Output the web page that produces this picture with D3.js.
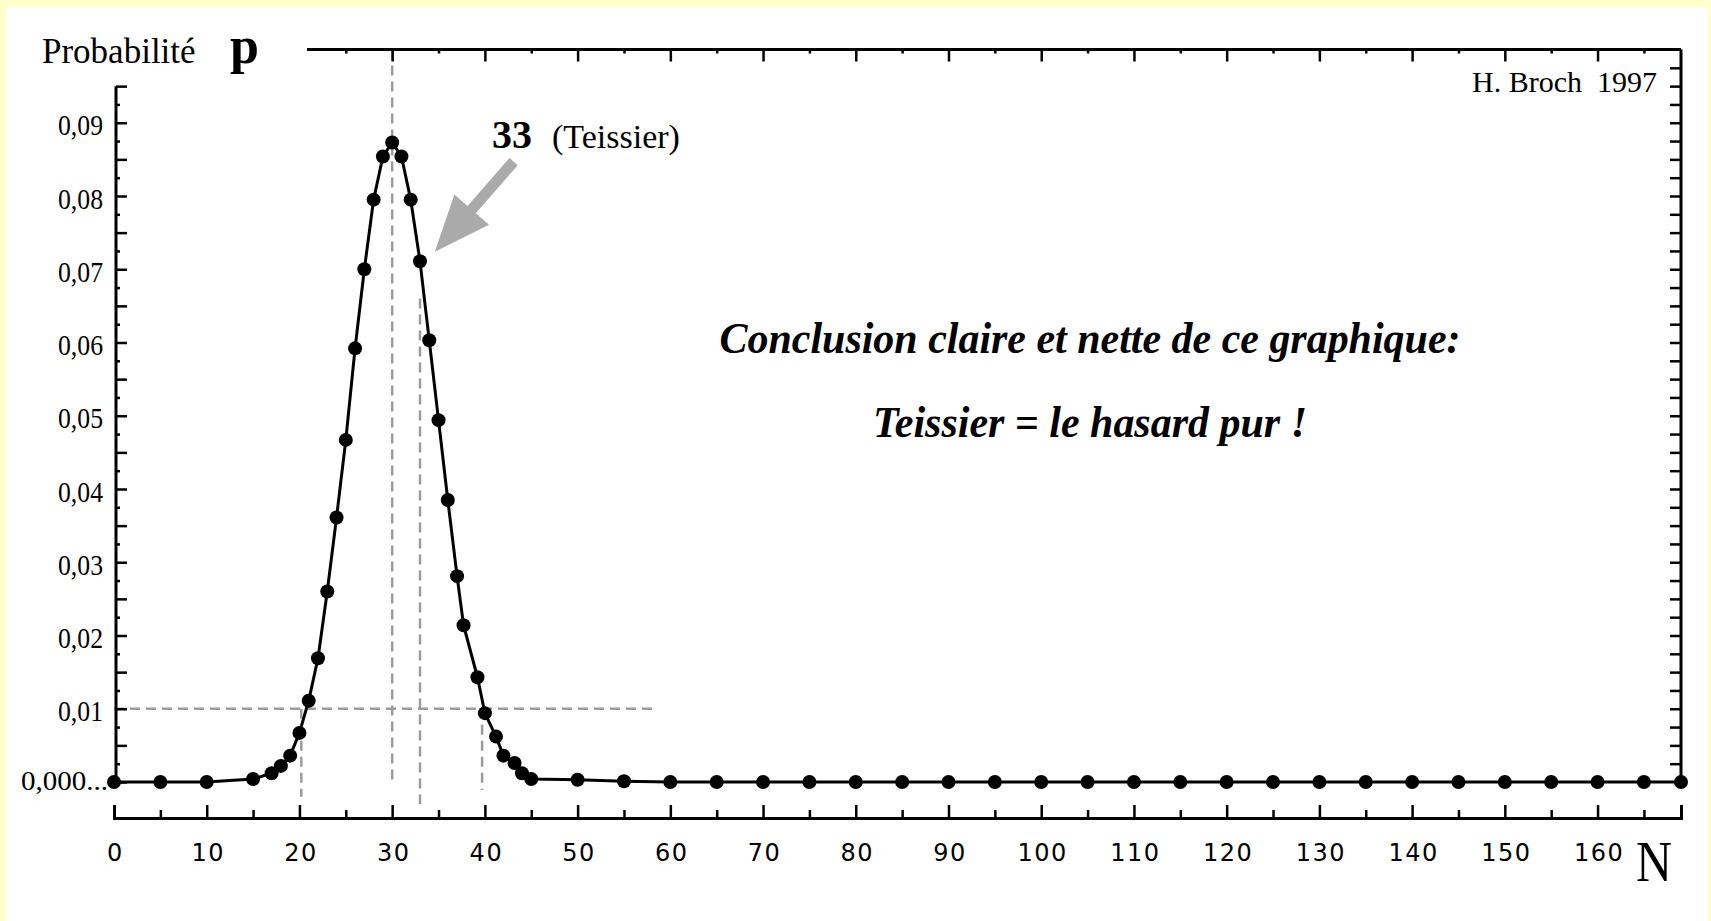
<!DOCTYPE html>
<html>
<head>
<meta charset="utf-8">
<script src="https://cdn.jsdelivr.net/npm/d3@7"></script>
<style>
  html, body { margin: 0; padding: 0; background: #ffffcc; }
  svg { display: block; }
</style>
</head>
<body>
<svg id="CHART" width="1711" height="921"></svg>
<script>
// valeurs : N et probabilité p
const N_VALUES = [0, 5, 10, 15, 17, 18, 19, 20, 21, 22, 23, 24, 25, 26, 27, 28, 29, 30, 31, 32, 33, 34, 35, 36, 37, 37.7, 39.2, 40, 41.2, 42, 43.2, 44, 45, 50, 55, 60, 65, 70, 75, 80, 85, 90, 95, 100, 105, 110, 115, 120, 125, 130, 135, 140, 145, 150, 155, 160, 165, 169];
const P_VALUES = [0, 0, 0, 0.0004, 0.0012, 0.0022, 0.0036, 0.0067, 0.0111, 0.0169, 0.026, 0.0361, 0.0467, 0.0592, 0.07, 0.0795, 0.0854, 0.0873, 0.0854, 0.0795, 0.0711, 0.0603, 0.0494, 0.0385, 0.0281, 0.0214, 0.0143, 0.0094, 0.0062, 0.0036, 0.0026, 0.0012, 0.0004, 0.0003, 0.0001, 0, 0, 0, 0, 0, 0, 0, 0, 0, 0, 0, 0, 0, 0, 0, 0, 0, 0, 0, 0, 0, 0, 0];

const X_TICKS = [0, 10, 20, 30, 40, 50, 60, 70, 80, 90, 100, 110, 120, 130, 140, 150, 160];
const Y_TICKS = [0.01, 0.02, 0.03, 0.04, 0.05, 0.06, 0.07, 0.08, 0.09];
const Y_LABELS = ["0,01", "0,02", "0,03", "0,04", "0,05", "0,06", "0,07", "0,08", "0,09"];
const Y_ZERO_LABEL = "0,000...";

// lignes pointillées (en unités N / p)
const GUIDES = [
  { x1: 0, y1: 0.01, x2: 58.3, y2: 0.01 },
  { x1: 20.2, y1: 0.01, x2: 20.2, y2: -0.002 },
  { x1: 30, y1: 0.1, x2: 30, y2: 0 },
  { x1: 33, y1: 0.066, x2: 33, y2: -0.003 },
  { x1: 39.7, y1: 0.01, x2: 39.7, y2: -0.0011 },
];
const ARROW = { from: [43.1, 0.0847], to: [34.6, 0.0724] };

const CONCLUSION = ["Conclusion claire et nette de ce graphique:", "Teissier = le hasard pur !"];

function drawChart() {
  const W = 1711, H = 921;
  const serif = "'Liberation Serif', 'Times New Roman', serif";
  const svg = d3.select("#CHART").attr("viewBox", `0 0 ${W} ${H}`);

  svg.append("rect").attr("width", W).attr("height", H).attr("fill", "#ffffcc");
  svg.append("rect").attr("x", 6).attr("y", 7).attr("width", W - 9).attr("height", H - 7).attr("fill", "white");

  const x = d3.scaleLinear().domain([0, 169]).range([114, 1681]);
  const y = d3.scaleLinear().domain([0, 0.1]).range([782, 49.5]);

  // pointillés gris
  svg.append("g")
    .attr("stroke", "#9c9c9c")
    .attr("stroke-width", 2.5)
    .attr("stroke-dasharray", "10,6")
    .selectAll("line")
    .data(GUIDES)
    .join("line")
    .attr("x1", (d) => x(d.x1))
    .attr("y1", (d) => y(d.y1))
    .attr("x2", (d) => x(d.x2))
    .attr("y2", (d) => y(d.y2));

  const styleAxis = (g, w) => {
    g.selectAll("line").attr("stroke", "#000").attr("stroke-width", w);
    g.selectAll("path").attr("stroke", "#000").attr("stroke-width", 3);
  };

  // axe N (en bas), graduations vers le haut
  const gx = svg.append("g").attr("transform", "translate(0,818)")
    .call(d3.axisBottom(x).tickValues(X_TICKS).tickSize(-13).tickSizeOuter(-13).tickPadding(26));
  styleAxis(gx, 2.5);
  gx.selectAll("text")
    .attr("fill", "#000")
    .style("font-family", "'DejaVu Sans', sans-serif")
    .style("font-size", "24px")
    .style("letter-spacing", "1.5px")
    .attr("dx", 1);
  const minorX = d3.range(5, 166, 10);
  const gx2 = svg.append("g").attr("transform", "translate(0,818)")
    .call(d3.axisBottom(x).tickValues(minorX).tickSize(-8).tickFormat(""));
  gx2.select(".domain").remove();
  styleAxis(gx2, 2.5);

  // axe haut
  svg.append("line").attr("x1", 307).attr("x2", x(169)).attr("y1", y(0.1)).attr("y2", y(0.1))
    .attr("stroke", "#000").attr("stroke-width", 3);
  const topMajor = d3.range(30, 161, 10);
  const topMinor = d3.range(25, 166, 10);
  [[topMajor, 12], [topMinor, 4]].forEach(([vals, len]) => {
    const g = svg.append("g").attr("transform", `translate(0,${y(0.1)})`)
      .call(d3.axisBottom(x).tickValues(vals).tickSize(len).tickFormat(""));
    g.select(".domain").remove();
    styleAxis(g, 2.5);
  });

  // axe p (gauche)
  svg.append("line").attr("x1", 116).attr("x2", 116).attr("y1", y(-0.0007)).attr("y2", y(0.095))
    .attr("stroke", "#000").attr("stroke-width", 3);
  const yMajor = d3.range(0, 20).map((i) => i * 0.005);
  const yMinor = d3.range(0, 19).map((i) => i * 0.005 + 0.0025);
  const gy = svg.append("g").attr("transform", "translate(116,0)")
    .call(d3.axisLeft(y).tickValues(yMajor).tickSize(-11).tickPadding(13)
      .tickFormat((d) => {
        const i = Y_TICKS.findIndex((t) => Math.abs(t - d) < 1e-9);
        return i < 0 ? "" : Y_LABELS[i];
      }));
  gy.select(".domain").remove();
  styleAxis(gy, 2.5);
  gy.selectAll("text")
    .attr("fill", "#000")
    .attr("dy", "0.42em")
    .style("font-family", serif)
    .style("font-size", "29px")
    .each(function () {
      if (this.textContent) d3.select(this).attr("textLength", 45).attr("lengthAdjust", "spacingAndGlyphs");
    });
  const gy2 = svg.append("g").attr("transform", "translate(116,0)")
    .call(d3.axisLeft(y).tickValues(yMinor).tickSize(-4).tickFormat(""));
  gy2.select(".domain").remove();
  styleAxis(gy2, 2.5);

  svg.append("text")
    .attr("x", 108).attr("y", 790)
    .attr("text-anchor", "end")
    .attr("textLength", 87).attr("lengthAdjust", "spacingAndGlyphs")
    .style("font-family", serif).style("font-size", "27px")
    .text(Y_ZERO_LABEL);

  // axe droit
  svg.append("line").attr("x1", x(169)).attr("x2", x(169)).attr("y1", y(0)).attr("y2", y(0.1))
    .attr("stroke", "#000").attr("stroke-width", 3);
  const rightTicks = d3.range(1, 40).map((i) => i * 0.0025);
  const gr = svg.append("g").attr("transform", `translate(${x(169)},0)`)
    .call(d3.axisLeft(y).tickValues(rightTicks).tickSize(11).tickFormat(""));
  gr.select(".domain").remove();
  styleAxis(gr, 2.5);

  // courbe + points
  const points = N_VALUES.map((n, i) => ({ n: n, p: P_VALUES[i] }));
  const line = d3.line().x((d) => x(d.n)).y((d) => y(d.p));
  svg.append("path")
    .datum(points)
    .attr("d", line)
    .attr("fill", "none")
    .attr("stroke", "#000")
    .attr("stroke-width", 3)
    .attr("stroke-linejoin", "round");
  svg.append("g")
    .selectAll("circle")
    .data(points)
    .join("circle")
    .attr("cx", (d) => x(d.n))
    .attr("cy", (d) => y(d.p))
    .attr("r", 7)
    .attr("fill", "#000");

  // flèche grise
  const ax0 = x(ARROW.from[0]), ay0 = y(ARROW.from[1]);
  const ax1 = x(ARROW.to[0]), ay1 = y(ARROW.to[1]);
  const len = Math.hypot(ax1 - ax0, ay1 - ay0);
  const ux = (ax1 - ax0) / len, uy = (ay1 - ay0) / len;
  const px = -uy, py = ux;
  const headLen = 56, headW = 23, shaftW = 5.5;
  const bx = ax1 - ux * headLen, by = ay1 - uy * headLen;
  const arrowPts = [
    [ax0 + px * shaftW, ay0 + py * shaftW],
    [bx + px * shaftW, by + py * shaftW],
    [bx + px * headW, by + py * headW],
    [ax1, ay1],
    [bx - px * headW, by - py * headW],
    [bx - px * shaftW, by - py * shaftW],
    [ax0 - px * shaftW, ay0 - py * shaftW],
  ];
  svg.append("polygon")
    .attr("points", arrowPts.map((d) => d.join(",")).join(" "))
    .attr("fill", "#aaaaaa");

  // textes
  const texts = svg.append("g").style("font-family", serif).attr("fill", "#000");
  texts.append("text").attr("x", 42).attr("y", 63).style("font-size", "35px").text("Probabilité");
  texts.append("text").attr("x", 230).attr("y", 63).style("font-size", "52px").style("font-weight", 700).text("p");
  texts.append("text").attr("x", 1657).attr("y", 92).attr("text-anchor", "end")
    .style("font-size", "30px").style("white-space", "pre").text("H. Broch  1997");
  texts.append("text").attr("x", 492).attr("y", 148).style("font-size", "40px").style("font-weight", 700).text("33");
  texts.append("text").attr("x", 552).attr("y", 148).style("font-size", "34px").text("(Teissier)");
  texts.append("text").attr("x", 1636).attr("y", 881)
    .attr("textLength", 36).attr("lengthAdjust", "spacingAndGlyphs")
    .style("font-size", "58px").text("N");

  texts.selectAll("text.concl")
    .data(CONCLUSION)
    .join("text")
    .attr("class", "concl")
    .attr("x", 1090)
    .attr("y", (d, i) => 353 + i * 84)
    .attr("text-anchor", "middle")
    .attr("textLength", (d, i) => (i === 0 ? 741 : 434))
    .attr("lengthAdjust", "spacingAndGlyphs")
    .style("font-size", "44px")
    .style("font-style", "italic")
    .style("font-weight", 700)
    .text((d) => d);
}
drawChart();
</script>
</body>
</html>
